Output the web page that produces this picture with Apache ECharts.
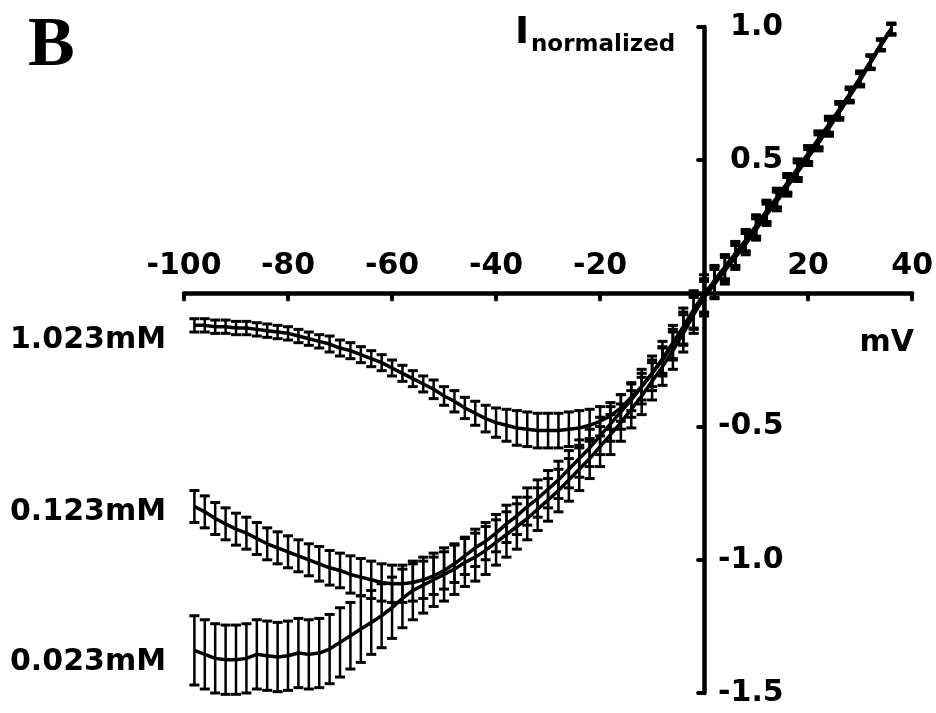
<!DOCTYPE html>
<html>
<head>
<meta charset="utf-8">
<script src="https://cdn.jsdelivr.net/npm/echarts@6/dist/echarts.min.js"></script>
<style>html,body{margin:0;padding:0;background:#fff;}#c{width:936px;height:713px;}</style>
</head>
<body>
<div id="c"></div>
<script>
// ---- data ----
const voltages = [-98,-96,-94,-92,-90,-88,-86,-84,-82,-80,-78,-76,-74,-72,-70,-68,-66,-64,-62,-60,-58,-56,-54,-52,-50,-48,-46,-44,-42,-40,-38,-36,-34,-32,-30,-28,-26,-24,-22,-20,-18,-16,-14,-12,-10,-8,-6,-4,-2,0,2,4,6,8,10,12,14,16,18,20,22,24,26,28,30,32,34,36];

const i1023 = [-0.12,-0.12,-0.125,-0.125,-0.13,-0.13,-0.135,-0.14,-0.145,-0.15,
  -0.16,-0.17,-0.18,-0.19,-0.205,-0.215,-0.23,-0.245,-0.26,-0.28,
  -0.30,-0.32,-0.34,-0.36,-0.385,-0.405,-0.43,-0.45,-0.47,-0.485,
  -0.495,-0.505,-0.51,-0.515,-0.515,-0.515,-0.51,-0.505,-0.495,-0.48,
  -0.46,-0.43,-0.39,-0.35,-0.30,-0.25,-0.19,-0.13,-0.075,-0.015,
  0.05,0.10,0.15,0.20,0.255,0.31,0.36,0.415,0.47,0.525,0.58,0.635,0.69,0.75,0.81,0.87,0.935,0.99];
const e1023 = [0.025,0.025,0.025,0.025,0.025,0.025,0.025,0.025,0.025,0.025,
  0.025,0.025,0.025,0.03,0.03,0.03,0.03,0.03,0.03,0.03,
  0.03,0.03,0.03,0.035,0.035,0.04,0.04,0.045,0.05,0.055,
  0.06,0.065,0.065,0.065,0.065,0.065,0.065,0.065,0.06,0.055,
  0.05,0.05,0.05,0.05,0.05,0.05,0.055,0.06,0.06,0.06,
  0.05,0.045,0.045,0.04,0.04,0.04,0.035,0.035,0.035,0.03,0.03,0.03,0.03,0.025,0.025,0.025,0.02,0.02];

const i0123 = [-0.80,-0.82,-0.845,-0.865,-0.885,-0.90,-0.92,-0.94,-0.955,-0.97,
  -0.985,-1.00,-1.015,-1.03,-1.04,-1.055,-1.065,-1.075,-1.085,-1.09,
  -1.09,-1.085,-1.075,-1.06,-1.04,-1.015,-0.985,-0.955,-0.93,-0.90,
  -0.865,-0.835,-0.80,-0.77,-0.735,-0.70,-0.66,-0.62,-0.58,-0.535,
  -0.49,-0.445,-0.40,-0.35,-0.30,-0.245,-0.185,-0.125,-0.06,0.0,
  0.045,0.095,0.145,0.195,0.25,0.305,0.355,0.41,0.465,0.52,0.575,0.63,0.69,0.745,0.805,0.87,0.935,0.995];
const e0123 = [0.06,0.06,0.06,0.06,0.06,0.06,0.06,0.06,0.06,0.06,
  0.06,0.06,0.065,0.065,0.065,0.07,0.07,0.07,0.07,0.07,
  0.07,0.07,0.07,0.07,0.07,0.07,0.07,0.07,0.07,0.07,
  0.07,0.07,0.07,0.07,0.07,0.07,0.07,0.07,0.07,0.07,
  0.065,0.065,0.065,0.065,0.065,0.065,0.065,0.07,0.07,0.07,
  0.06,0.05,0.045,0.04,0.04,0.04,0.035,0.035,0.035,0.03,0.03,0.03,0.03,0.025,0.025,0.025,0.02,0.02];

const i0023 = [-1.34,-1.355,-1.37,-1.375,-1.375,-1.37,-1.355,-1.36,-1.365,-1.36,
  -1.35,-1.355,-1.35,-1.335,-1.31,-1.285,-1.26,-1.235,-1.21,-1.18,
  -1.145,-1.115,-1.095,-1.075,-1.055,-1.035,-1.01,-0.99,-0.965,-0.935,
  -0.905,-0.875,-0.845,-0.81,-0.775,-0.74,-0.70,-0.66,-0.62,-0.575,
  -0.53,-0.485,-0.435,-0.385,-0.33,-0.275,-0.215,-0.15,-0.08,-0.015,
  0.035,0.085,0.135,0.185,0.24,0.295,0.345,0.40,0.455,0.51,0.565,0.62,0.68,0.74,0.80,0.865,0.93,0.99];
const e0023 = [0.13,0.13,0.13,0.13,0.13,0.13,0.13,0.13,0.13,0.13,
  0.13,0.13,0.13,0.13,0.13,0.125,0.125,0.12,0.12,0.115,
  0.11,0.11,0.105,0.10,0.10,0.095,0.09,0.09,0.09,0.085,
  0.085,0.085,0.08,0.08,0.08,0.08,0.08,0.08,0.075,0.075,
  0.075,0.07,0.07,0.07,0.07,0.07,0.07,0.07,0.07,0.07,
  0.055,0.05,0.045,0.04,0.04,0.04,0.035,0.035,0.035,0.03,0.03,0.03,0.03,0.025,0.025,0.025,0.02,0.02];

const seriesNames = ['1.023mM', '0.123mM', '0.023mM'];
const xTicks = [-100, -80, -60, -40, -20, 0, 20, 40];
const yTicks = [-1.5, -1.0, -0.5, 0, 0.5, 1.0];

// ---- chart ----
const FONT = '"DejaVu Sans", sans-serif';
const chart = echarts.init(document.getElementById('c'), null, {renderer: 'canvas'});

function errItem(params, api) {
  const x = api.value(0), y = api.value(1), e = api.value(2);
  const t = api.coord([x, y + e]);
  const b = api.coord([x, y - e]);
  const hw = 5;
  return {
    type: 'group',
    children: [
      {type: 'line', shape: {x1: t[0], y1: t[1], x2: b[0], y2: b[1]}, style: {stroke: '#000', lineWidth: 2.5}},
      {type: 'line', shape: {x1: t[0] - hw, y1: t[1], x2: t[0] + hw, y2: t[1]}, style: {stroke: '#000', lineWidth: 3}},
      {type: 'line', shape: {x1: b[0] - hw, y1: b[1], x2: b[0] + hw, y2: b[1]}, style: {stroke: '#000', lineWidth: 3}}
    ]
  };
}

const means = [i1023, i0123, i0023];
const errs = [e1023, e0123, e0023];
const series = [];
means.forEach((m, k) => {
  series.push({
    name: seriesNames[k] + ' err',
    type: 'custom',
    renderItem: errItem,
    data: voltages.map((v, i) => [v, m[i], errs[k][i]]),
    z: 3,
    silent: true,
    clip: false
  });
  series.push({
    name: seriesNames[k],
    type: 'line',
    data: voltages.map((v, i) => [v, m[i]]),
    showSymbol: false,
    symbol: 'none',
    lineStyle: {color: '#000', width: 3.5},
    z: 4,
    silent: true
  });
});

const xMin = xTicks[0], xMax = xTicks[xTicks.length - 1];
const yMin = yTicks[0], yMax = yTicks[yTicks.length - 1];

chart.setOption({
  animation: false,
  backgroundColor: '#fff',
  grid: {left: 184, right: 22, top: 27, bottom: 20},
  xAxis: {
    type: 'value', min: xMin, max: xMax, interval: 20, position: 'bottom', offset: 0,
    axisLine: {onZero: false, lineStyle: {color: '#000', width: 4.5, cap: 'round'}},
    axisTick: {show: true, inside: false, length: 6, lineStyle: {color: '#000', width: 4, cap: 'round'}},
    axisLabel: {inside: true, margin: 12, color: '#000', fontFamily: FONT, fontWeight: 'bold', fontSize: 30,
      formatter: v => (v === 0 ? '' : String(v))},
    splitLine: {show: false}
  },
  yAxis: {
    type: 'value', min: yMin, max: yMax, interval: 0.5, position: 'left', offset: 0,
    axisLine: {onZero: false, lineStyle: {color: '#000', width: 4.5, cap: 'round'}},
    axisTick: {show: true, inside: false, length: 6, lineStyle: {color: '#000', width: 4, cap: 'round'}},
    axisLabel: {inside: true, margin: 14, color: '#000', fontFamily: FONT, fontWeight: 'bold', fontSize: 30,
      formatter: v => (v === 0 ? '' : (v > 0 ? '{p|' + v.toFixed(1) + '}' : v.toFixed(1))),
      rich: {p: {padding: [0, 0, 0, 12], color: '#000', fontFamily: FONT, fontWeight: 'bold', fontSize: 30}}},
    splitLine: {show: false}
  },
  graphic: [
    {type: 'text', left: 28, top: 12, style: {text: 'B', fill: '#000', font: 'bold 70px "Liberation Serif", serif'}},
    {type: 'text', left: 515, top: 14, style: {text: 'I', fill: '#000', font: 'bold 38px ' + FONT}},
    {type: 'text', left: 531, top: 34, style: {text: 'normalized', fill: '#000', font: 'bold 23px ' + FONT}},
    {type: 'text', right: 22, top: 328, style: {text: 'mV', fill: '#000', font: 'bold 30px ' + FONT}},
    {type: 'text', left: 10, top: 325, style: {text: seriesNames[0], fill: '#000', font: 'bold 30px ' + FONT}},
    {type: 'text', left: 10, top: 497, style: {text: seriesNames[1], fill: '#000', font: 'bold 30px ' + FONT}},
    {type: 'text', left: 10, top: 647, style: {text: seriesNames[2], fill: '#000', font: 'bold 30px ' + FONT}}
  ],
  series: series
});

// move both axes onto the origin, using the chart's own scales
const origin = chart.convertToPixel({gridIndex: 0}, [0, 0]);
const corner = chart.convertToPixel({gridIndex: 0}, [xMin, yMin]);
chart.setOption({
  xAxis: {offset: origin[1] - corner[1]},
  yAxis: {offset: corner[0] - origin[0]}
});
</script>
</body>
</html>
